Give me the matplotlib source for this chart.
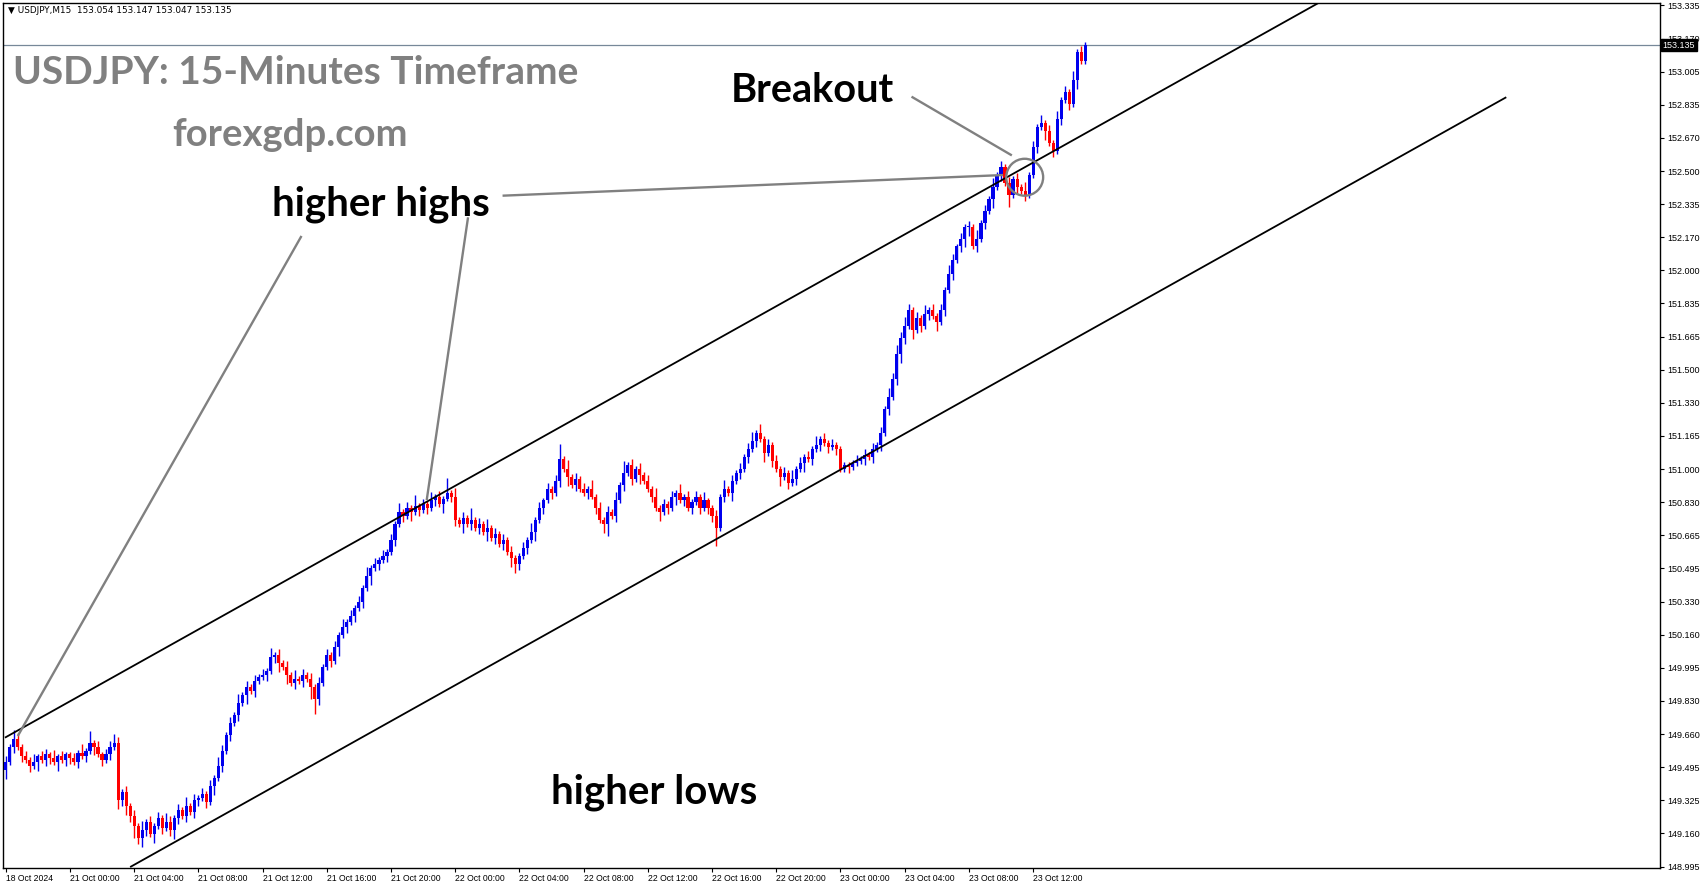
import numpy as np
import matplotlib
matplotlib.use("Agg")
import matplotlib.pyplot as plt
from matplotlib.patches import Ellipse

# ---------------- data ----------------
symbol_header = "\u25bc USDJPY,M15  153.054 153.147 153.047 153.135"

first_open = 149.48
closes = [
    149.52, 149.60, 149.64, 149.60, 149.55, 149.53, 149.50, 149.52, 149.55, 149.53, 149.56, 149.54, 149.52, 149.55, 149.53, 149.56,
    149.54, 149.52, 149.57, 149.55, 149.58, 149.62, 149.60, 149.56, 149.53, 149.56, 149.60, 149.62, 149.33, 149.37, 149.30, 149.25,
    149.20, 149.14, 149.18, 149.22, 149.16, 149.20, 149.24, 149.19, 149.22, 149.18, 149.24, 149.28, 149.25, 149.30, 149.27, 149.33,
    149.34, 149.36, 149.32, 149.40, 149.44, 149.50, 149.58, 149.66, 149.72, 149.76, 149.82, 149.86, 149.90, 149.88, 149.93, 149.95,
    149.96, 149.98, 150.05, 150.06, 150.02, 150.00, 149.96, 149.92, 149.94, 149.93, 149.96, 149.94, 149.90, 149.84, 149.92, 150.00,
    150.06, 150.03, 150.10, 150.16, 150.20, 150.23, 150.26, 150.30, 150.33, 150.40, 150.46, 150.50, 150.52, 150.54, 150.56, 150.58,
    150.64, 150.72, 150.78, 150.76, 150.80, 150.78, 150.81, 150.79, 150.82, 150.80, 150.84, 150.86, 150.82, 150.85, 150.88, 150.86,
    150.74, 150.72, 150.75, 150.72, 150.74, 150.70, 150.72, 150.68, 150.70, 150.65, 150.67, 150.62, 150.64, 150.58, 150.55, 150.52,
    150.56, 150.60, 150.64, 150.68, 150.74, 150.80, 150.84, 150.90, 150.88, 150.94, 151.05, 151.00, 150.96, 150.92, 150.95, 150.90,
    150.88, 150.90, 150.86, 150.80, 150.74, 150.72, 150.78, 150.76, 150.84, 150.92, 150.98, 151.02, 150.95, 151.00, 150.97, 150.94,
    150.90, 150.86, 150.80, 150.78, 150.82, 150.80, 150.86, 150.88, 150.84, 150.86, 150.80, 150.83, 150.86, 150.80, 150.84, 150.80,
    150.76, 150.70, 150.86, 150.90, 150.88, 150.94, 150.98, 151.00, 151.06, 151.10, 151.14, 151.18, 151.15, 151.08, 151.12, 151.04,
    151.00, 150.96, 150.98, 150.93, 150.95, 151.00, 151.03, 151.06, 151.05, 151.10, 151.12, 151.15, 151.13, 151.11, 151.12, 151.10,
    151.00, 151.02, 151.01, 151.03, 151.04, 151.05, 151.07, 151.06, 151.10, 151.12, 151.18, 151.30, 151.36, 151.45, 151.58, 151.66,
    151.72, 151.80, 151.70, 151.76, 151.72, 151.78, 151.80, 151.77, 151.74, 151.80, 151.90, 151.98, 152.05, 152.12, 152.16, 152.22,
    152.22, 152.12, 152.16, 152.24, 152.30, 152.36, 152.42, 152.48, 152.52, 152.44, 152.38, 152.46, 152.42, 152.40, 152.38, 152.48,
    152.62, 152.72, 152.74, 152.70, 152.64, 152.60, 152.76, 152.86, 152.90, 152.84, 152.96, 153.10, 153.054, 153.135,
]
# wick lengths beyond the body, in units of 0.015 yen (one digit per candle)
wick_hi = ("2132121312213121" "1213141212232121" "2131212132121312" "1212132121312121"
           "2131212131212121" "2121312121312121" "2131214121312151" "3121412131212121"
           "1213121212513121" "2131212131412121" "2131212131212131" "1213121212313121"
           "2121312121312121" "1111212121213232" "3212131212132121" "2131213121212131"
           "21312131213121")
wick_lo = ("3121212131221312" "2121213121213232" "4232131212321212" "2121312121213121"
           "1212313121214521" "1213121212131212" "1212131212121312" "2131212131212133"
           "2121312121213121" "1212134121212131" "1213121312121212" "2612131212121312"
           "1312121312121212" "1121112121212123" "2131212131212123" "3121213121412121"
           "12131212121311")
wick_unit = 0.015

x_label_text = ["18 Oct 2024", "21 Oct 00:00", "21 Oct 04:00", "21 Oct 08:00", "21 Oct 12:00",
                "21 Oct 16:00", "21 Oct 20:00", "22 Oct 00:00", "22 Oct 04:00", "22 Oct 08:00",
                "22 Oct 12:00", "22 Oct 16:00", "22 Oct 20:00", "23 Oct 00:00", "23 Oct 04:00",
                "23 Oct 08:00", "23 Oct 12:00"]
x_label_bar = [0, 16, 32, 48, 64, 80, 96, 112, 128, 144, 160, 176, 192, 208, 224, 240, 256]

y_label_text = ["153.335", "153.170", "153.005", "152.835", "152.670", "152.500", "152.335",
                "152.170", "152.000", "151.835", "151.665", "151.500", "151.330", "151.165",
                "151.000", "150.830", "150.665", "150.495", "150.330", "150.160", "149.995",
                "149.830", "149.660", "149.495", "149.325", "149.160", "148.995"]
current_price = 153.135

# channel trend lines: (bar index, price) anchors
upper_channel_bars = [0.0, 327.0]
upper_channel_prices = [149.647, 153.346]
lower_channel_bars = [31.2, 373.7]
lower_channel_prices = [148.995, 152.870]

# annotation pointer lines: (bar index, price) anchors
pointer_bars = [[3.0, 73.7], [104.9, 115.2], [123.8, 248.5], [225.7, 250.7]]
pointer_prices = [[149.653, 152.173], [150.842, 152.267], [152.376, 152.480], [152.875, 152.579]]
breakout_circle = (253.9, 152.469)

# ---------------- figure ----------------
W, H = 1705, 888
fig = plt.figure(figsize=(W / 100, H / 100), dpi=100)
fig.patch.set_facecolor("white")
L, R, T, B = 3.3, 1660.0, 3.0, 868.0
ax = fig.add_axes([L / W, (H - B) / H, (R - L) / W, (B - T) / H])
ax.set_facecolor("white")
for s in ax.spines.values():
    s.set_color("black")
    s.set_linewidth(1.0)

n = len(closes)
idx = np.arange(n)
closes_a = np.array(closes)
opens_a = np.concatenate([[first_open], closes_a[:-1]])
hi_a = np.maximum(opens_a, closes_a) + np.array([int(c) for c in wick_hi[:n]]) * wick_unit
lo_a = np.minimum(opens_a, closes_a) - np.array([int(c) for c in wick_lo[:n]]) * wick_unit
bull = closes_a >= opens_a
cols = np.where(bull, "#0000ee", "#ff0000")

ax.vlines(idx, lo_a, hi_a, colors=cols, linewidth=1.0, zorder=2)
body_lo = np.minimum(opens_a, closes_a)
body_h = np.maximum(np.abs(closes_a - opens_a), 0.005)
ax.bar(idx, body_h, bottom=body_lo, width=0.78, color=cols, linewidth=0, zorder=3)

# channel lines
ax.plot(upper_channel_bars, upper_channel_prices, color="black", linewidth=1.3, zorder=4)
ax.plot(lower_channel_bars, lower_channel_prices, color="black", linewidth=1.3, zorder=4)

# pointer lines
for xs, ys in zip(pointer_bars, pointer_prices):
    ax.plot(xs, ys, color="#808080", linewidth=1.7, zorder=5, solid_capstyle="butt")
ax.add_patch(Ellipse(breakout_circle, width=9.2, height=0.186, fill=False,
                     edgecolor="#808080", linewidth=1.7, zorder=5))

# current price line
ax.axhline(current_price, color="#778899", linewidth=0.9, zorder=1)

ax.set_xlim(-0.6, 412.2)
ax.set_ylim(148.988, 153.347)

# y ticks (right)
y_pos = np.linspace(148.995, 153.335, len(y_label_text))[::-1]
ax.yaxis.tick_right()
ax.set_yticks(y_pos)
ax.set_yticklabels(y_label_text, fontsize=6.5, family="Liberation Sans")
ax.tick_params(axis="y", direction="out", length=3, width=0.8, pad=2, colors="black")

# x ticks (bottom)
ax.set_xticks(x_label_bar)
ax.set_xticklabels(x_label_text, fontsize=6.2, family="Liberation Sans")
for lbl in ax.get_xticklabels():
    lbl.set_horizontalalignment("left")
ax.tick_params(axis="x", direction="out", length=3, width=0.8, pad=1.5, colors="black")

# current price tag
ax.annotate("153.135", xy=(1.0, current_price), xycoords=("axes fraction", "data"),
            xytext=(2, 0), textcoords="offset points", ha="left", va="center",
            fontsize=6.5, family="Liberation Sans", color="white",
            bbox=dict(boxstyle="square,pad=0.15", facecolor="black", edgecolor="black"),
            zorder=10, annotation_clip=False)

# header
fig.text(8 / W, 1 - 6 / H, symbol_header, fontsize=6.4, family="DejaVu Sans",
         ha="left", va="top", color="black")

# big annotation text (pixel positions in figure)
def ptext(x, y, s, color, size):
    fig.text(x / W, 1 - y / H, s, fontsize=size, fontweight="bold", family="Lato",
             color=color, ha="left", va="center")

ptext(13, 73, "USDJPY: 15-Minutes Timeframe", "#808080", 28)
ptext(172, 135, "forexgdp.com", "#808080", 27.5)
ptext(731, 91, "Breakout", "black", 28.5)
ptext(272, 204, "higher highs", "black", 29)
ptext(551, 792, "higher lows", "black", 29)

fig.savefig("out.png", dpi=100, facecolor="white")
